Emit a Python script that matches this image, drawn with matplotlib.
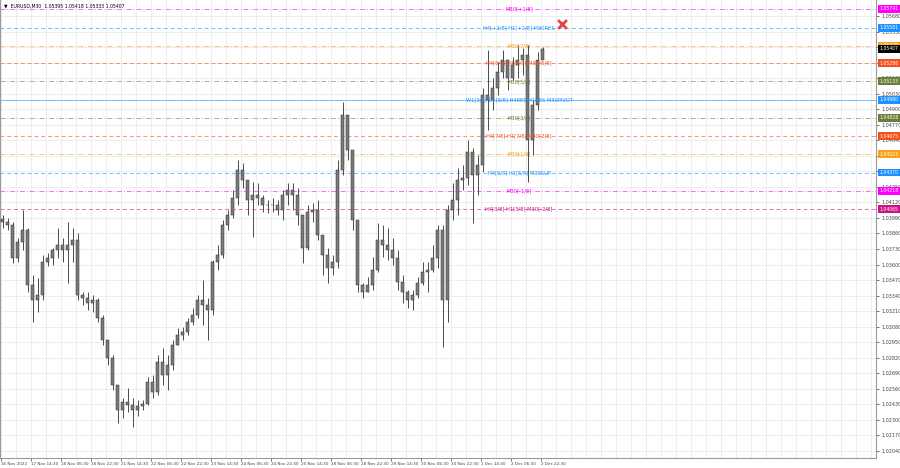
import numpy as np
import matplotlib.pyplot as plt
from matplotlib.transforms import blended_transform_factory

# EURUSD M30 in groups of a few bars (high, low, close)
highs = [1.04014, 1.03989, 1.03956, 1.03822, 1.04056, 1.03906, 1.03512, 1.03487, 1.03680, 1.03696,
         1.03738, 1.03906, 1.03822, 1.03956, 1.03906, 1.03864, 1.03370, 1.03370, 1.03345, 1.03320,
         1.03177, 1.02968, 1.02843, 1.02592, 1.02483, 1.02566, 1.02483, 1.02466, 1.02466, 1.02659,
         1.02675, 1.02843, 1.02901, 1.02843, 1.02968, 1.03069, 1.03077, 1.03152, 1.03236, 1.03345,
         1.03470, 1.03320, 1.03638, 1.03763, 1.03973, 1.04056, 1.04224, 1.04475, 1.04450, 1.04307,
         1.04291, 1.04282, 1.04182, 1.04140, 1.04157, 1.04140, 1.04224, 1.04282, 1.04282, 1.04240,
         1.04014, 1.04098, 1.04115, 1.04140, 1.03847, 1.03738, 1.03680, 1.04475, 1.04960, 1.04851,
         1.04559, 1.03973, 1.03445, 1.03496, 1.03663, 1.03948, 1.03931, 1.03906, 1.03822, 1.03722,
         1.03512, 1.03387, 1.03387, 1.03496, 1.03621, 1.03621, 1.03763, 1.03931, 1.03931, 1.04098,
         1.04282, 1.04408, 1.04433, 1.04642, 1.04575, 1.04517, 1.05077, 1.05396, 1.05161, 1.05295,
         1.05396, 1.05295, 1.05337, 1.05437, 1.05412, 1.05437, 1.04977, 1.05379, 1.05418]
lows = [1.03906, 1.03889, 1.03613, 1.03621, 1.03722, 1.03370, 1.03119, 1.03203, 1.03303, 1.03588,
        1.03596, 1.03655, 1.03621, 1.03445, 1.03621, 1.03303, 1.03261, 1.03219, 1.03203, 1.03119,
        1.02926, 1.02759, 1.02550, 1.02274, 1.02315, 1.02366, 1.02240, 1.02332, 1.02382, 1.02424,
        1.02483, 1.02508, 1.02592, 1.02550, 1.02717, 1.02926, 1.02968, 1.03010, 1.03094, 1.03152,
        1.03094, 1.02968, 1.03177, 1.03554, 1.03655, 1.03889, 1.03989, 1.04098, 1.04240, 1.04014,
        1.03830, 1.04098, 1.04040, 1.04031, 1.04040, 1.04014, 1.03973, 1.04098, 1.04056, 1.03931,
        1.03613, 1.03722, 1.03956, 1.03805, 1.03512, 1.03445, 1.03512, 1.03571, 1.04349, 1.04475,
        1.03889, 1.03370, 1.03320, 1.03370, 1.03387, 1.03537, 1.03663, 1.03638, 1.03596, 1.03387,
        1.03278, 1.03236, 1.03219, 1.03320, 1.03429, 1.03370, 1.03537, 1.03571, 1.02910, 1.03119,
        1.03973, 1.04014, 1.04224, 1.04266, 1.03948, 1.04182, 1.04374, 1.04726, 1.04893, 1.05019,
        1.05161, 1.05061, 1.05144, 1.05161, 1.05186, 1.04291, 1.04517, 1.04893, 1.05333]
closes = [1.03956, 1.03931, 1.03655, 1.03789, 1.03889, 1.03429, 1.03303, 1.03345, 1.03621, 1.03655,
          1.03722, 1.03763, 1.03722, 1.03763, 1.03805, 1.03345, 1.03320, 1.03278, 1.03303, 1.03152,
          1.02968, 1.02818, 1.02592, 1.02382, 1.02449, 1.02424, 1.02382, 1.02416, 1.02433, 1.02617,
          1.02533, 1.02784, 1.02675, 1.02759, 1.02926, 1.03010, 1.03035, 1.03119, 1.03177, 1.03303,
          1.03261, 1.03219, 1.03621, 1.03680, 1.03931, 1.04014, 1.04157, 1.04391, 1.04307, 1.04140,
          1.04182, 1.04157, 1.04098, 1.04098, 1.04098, 1.04056, 1.04182, 1.04224, 1.04182, 1.04014,
          1.03738, 1.04040, 1.04056, 1.03847, 1.03680, 1.03571, 1.03621, 1.04391, 1.04851, 1.04559,
          1.03973, 1.03429, 1.03370, 1.03429, 1.03554, 1.03805, 1.03763, 1.03722, 1.03655, 1.03454,
          1.03370, 1.03303, 1.03345, 1.03445, 1.03537, 1.03554, 1.03655, 1.03889, 1.03303, 1.04056,
          1.04140, 1.04307, 1.04324, 1.04542, 1.04349, 1.04433, 1.05019, 1.04977, 1.05077, 1.05211,
          1.05312, 1.05161, 1.05270, 1.05312, 1.05354, 1.04642, 1.04935, 1.05312, 1.05407]
first_open = 1.03980

# murrey math levels
levels = [1.05741, 1.05581, 1.05429, 1.05286, 1.05133, 1.04980,
          1.04828, 1.04675, 1.04523, 1.04370, 1.04218, 1.04065]
level_names = ["M30[+1/8]", "H4[+2/8] H1[+2/8] M30RES", "M30[7/8]",
               "H4[6/8] H1[6/8] M30[6/8]", "M30[5/8]",
               "W1[3/8] D1[8/8] H4RES H1RES M30PIVOT", "M30[3/8]",
               "H4[7/8] H1[7/8] M30[2/8]", "M30[1/8]", "H4[5/8] H1[5/8] M30SUP",
               "M30[-1/8]", "H4[3/8] H1[3/8] M30[-2/8]"]
level_colors = ["#ff00ff", "#1e90ff", "#f7a21b", "#f4511e", "#6b7d3a", "#1e90ff",
                "#6b7d3a", "#f4511e", "#f7a21b", "#1e90ff", "#ff00ff", "#c71585"]
level_styles = ["dd", "dash", "dd", "dash", "dd", "solid",
                "dd", "dash", "dd", "dash", "dd", "dash"]

last_price = 1.05407
marker_price = 1.05613

date_labels = ["16 Nov 2022", "17 Nov 14:30", "18 Nov 06:30", "18 Nov 22:30", "21 Nov 14:30",
               "22 Nov 06:30", "22 Nov 22:30", "23 Nov 14:30", "24 Nov 06:30", "24 Nov 22:30",
               "25 Nov 14:30", "28 Nov 06:30", "28 Nov 22:30", "29 Nov 14:30", "30 Nov 06:30",
               "30 Nov 22:30", "1 Dec 14:30", "2 Dec 06:30", "2 Dec 22:30"]

step = 5        # width of one group of bars
lab_step = 30   # distance between date labels
y_lo, y_hi = 1.019814, 1.058139


def plot_chart():
    fig = plt.figure(figsize=(9, 4.68), dpi=100)
    ax = fig.add_axes([0, 10 / 468, 876 / 900, 458 / 468])
    ax.set_xlim(0, 876)
    ax.set_ylim(y_lo, y_hi)

    # grid
    for gx in np.arange(1, 876, lab_step / 2):
        ax.axvline(gx, color="#ebebeb", lw=0.6, zorder=0)
    yt = np.round(np.arange(1.02040, 1.0575, 0.0013), 5)
    for gy in yt:
        ax.axhline(gy, color="#ebebeb", lw=0.6, zorder=0)

    # candles
    x = np.arange(len(closes)) * step + step / 2
    c = np.array(closes)
    o = np.r_[first_open, c[:-1]]
    ax.vlines(x, lows, highs, color="#4a4a4a", lw=0.7, zorder=3)
    body = np.maximum(np.abs(c - o), 0.00004)
    ax.bar(x, body, bottom=np.minimum(o, c), width=2.2, color="#7a7a7a",
           edgecolor="#303030", linewidth=0.35, zorder=3)

    # levels
    styles = {"dd": (0, (5, 2, 1, 2)), "dash": (0, (4, 3)), "solid": "-"}
    trans = blended_transform_factory(ax.transAxes, ax.transData)
    for p, name, col, st in zip(levels, level_names, level_colors, level_styles):
        ax.axhline(p, color=col, lw=0.7, alpha=0.6, linestyle=styles[st], zorder=1)
        ax.text(519, p, name, color=col, fontsize=3.7, ha="center", va="center", zorder=4)
        ax.text(1.004, p, "%.5f" % p, transform=trans, color="white", fontsize=3.3,
                ha="left", va="center", clip_on=False, zorder=6,
                bbox=dict(boxstyle="square,pad=0.3", fc=col, ec="none"))
    ax.text(1.004, last_price, "%.5f" % last_price, transform=trans, color="white",
            fontsize=3.3, ha="left", va="center", clip_on=False, zorder=6,
            bbox=dict(boxstyle="square,pad=0.3", fc="black", ec="none"))

    ax.scatter([562], [marker_price], marker="x", s=40, color="#e04848", linewidths=2, zorder=5)

    ax.text(0.004, 0.992, "\u25bc  EURUSD,M30  1.05395 1.05418 1.05333 1.05407",
            transform=ax.transAxes, fontsize=3.3, ha="left", va="top", color="black")

    # axes; price labels covered by a level box are not shown
    marks = levels + [last_price]
    ylabels = ["" if min(abs(v - m) for m in marks) < 0.0002 else "%.5f" % v for v in yt]
    ax.yaxis.tick_right()
    ax.set_yticks(yt)
    ax.set_yticklabels(ylabels)
    ax.tick_params(axis="y", labelsize=3.5, length=2, width=0.5, pad=2, colors="#444444")
    ticks = 1 + lab_step * np.arange(len(date_labels))
    ax.set_xticks(ticks)
    ax.set_xticklabels(date_labels, ha="left")
    ax.tick_params(axis="x", labelsize=3.0, length=2, width=0.5, pad=1, colors="#444444")
    for s in ["left", "right", "bottom"]:
        ax.spines[s].set_color("#9a9a9a")
        ax.spines[s].set_linewidth(0.8)
    ax.spines["left"].set_linewidth(1.5)
    ax.spines["top"].set_visible(False)

    fig.savefig("out.png", dpi=100)


if __name__ == '__main__':
    plot_chart()
